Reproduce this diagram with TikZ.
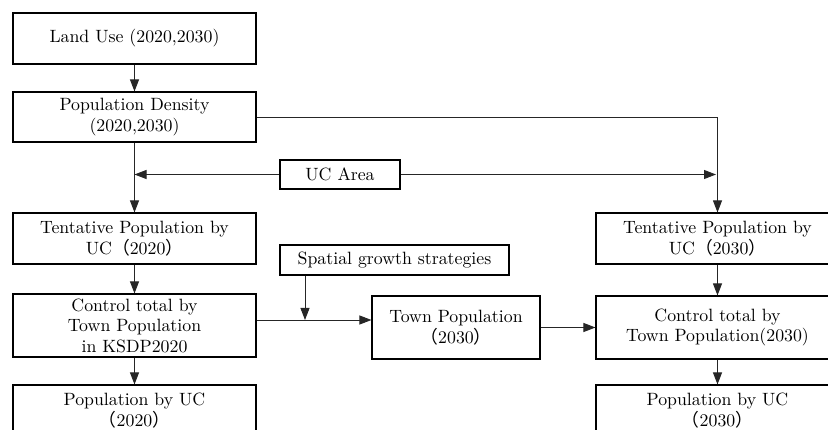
\documentclass[tikz,border=0pt]{standalone}
\usepackage{fontspec}
\setmainfont{lmroman10-regular.otf}
\newfontfamily\cjkfont{Noto Sans CJK JP}
\usetikzlibrary{arrows.meta}
\newcommand{\fwp}[1]{{\cjkfont （}#1{\cjkfont ）}}

\begin{document}
\begin{tikzpicture}[
			     x=1pt, y=-1pt,
			     >={Triangle[length=12pt,width=9pt]},
			     box/.style={draw, line width=1.1pt, align=center, inner sep=0pt,
			       minimum width=243pt, minimum height=51pt,
			       font=\fontsize{17.8}{20.5}\selectfont},
			     small box/.style 2 args={box, minimum width=#1, minimum height=#2},
			     normal line/.style={->, line width=0.9pt, draw=black!85}
			     ]
\useasboundingbox (0,0) rectangle (828,430);
\clip (0,0) rectangle (828,430);
% left column
\node[box] (landuse) at (134.5,38.5) {Land Use (2020,2030)};
\node[box, minimum height=50pt] (popdens) at (134.5,117) {Population Density\\(2020,2030)};
\node[box] (tent20) at (134.5,238.5) {Tentative Population by\\UC\fwp{2020}};
\node[box, minimum height=63pt] (ctrl20) at (134.5,325.5) {Control total by\\Town Population\\in KSDP2020};
\node[box] (pop20) at (134.5,410.5) {Population by UC\\\fwp{2020}};
% middle
\node[small box={120pt}{29pt}] (ucarea) at (340,174.5) {UC Area};
\node[small box={229pt}{30pt}] (spatial) at (394.5,260) {Spatial growth strategies};
\node[small box={168pt}{63pt}] (town) at (456,327.5) {Town Population\\\fwp{2030}};
% right column
\node[box] (tent30) at (717.5,238.5) {Tentative Population by\\UC\fwp{2030}};
\node[box, minimum height=63pt] (ctrl30) at (717.5,327.5) {Control total by\\Town Population(2030)};
\node[box] (pop30) at (717.5,410.5) {Population by UC\\\fwp{2030}};
\coordinate (join) at (305,320);

\path (landuse) edge[normal line] (popdens);
\path (popdens) edge[normal line] (tent20);
\path (tent20) edge[normal line] (ctrl20);
\path (ctrl20) edge[normal line] (pop20);
\path (tent30) edge[normal line] (ctrl30);
\path (ctrl30) edge[normal line] (pop30);
\path (town) edge[normal line] (ctrl30);
\draw[normal line] (popdens.east) -| (tent30.north);
\draw[normal line] (ucarea.west) -- (ucarea.west -| popdens.south);
\draw[normal line, shorten >=1.5pt] (ucarea.east) -- (ucarea.east -| tent30.north);
\draw[normal line] (ctrl20.east |- join) -- (town.west |- join);
\draw[normal line] (spatial.south -| join) -- (join);
\end{tikzpicture}
\end{document}
